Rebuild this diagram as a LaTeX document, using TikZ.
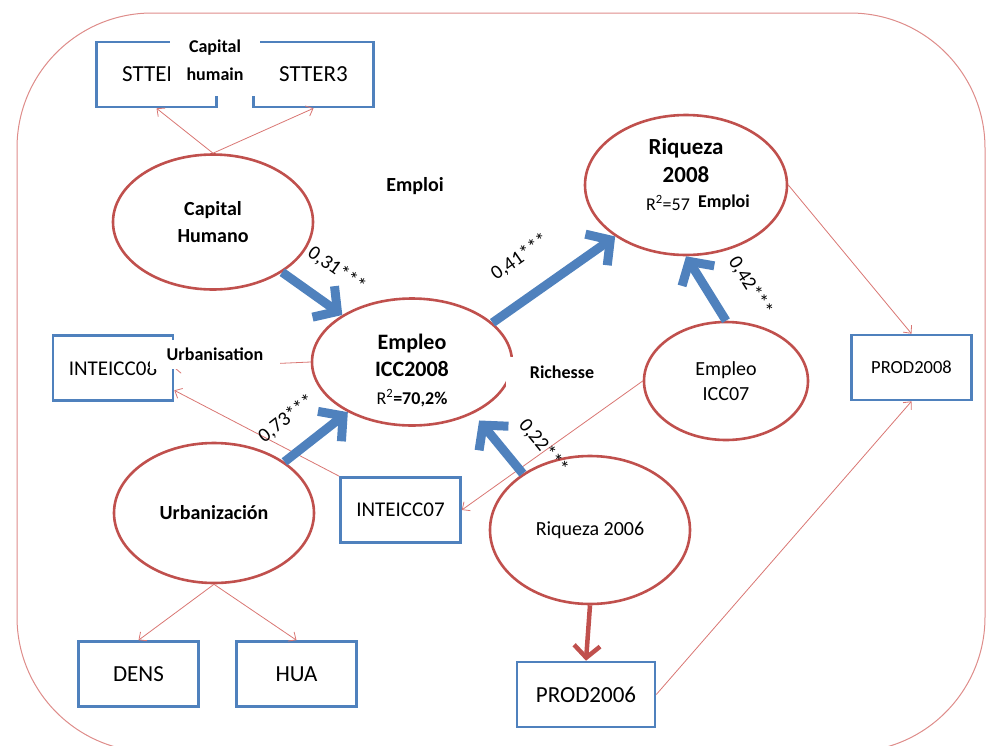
\documentclass[tikz,border=0pt]{standalone}
\usepackage{fontspec}
\setmainfont{Carlito}
\usetikzlibrary{arrows.meta,shapes.geometric}
\definecolor{semred}{RGB}{192,80,77}
\definecolor{semblue}{RGB}{79,129,189}
\definecolor{thinred}{RGB}{217,118,115}
\definecolor{framered}{RGB}{222,140,138}
\begin{document}
\begin{tikzpicture}[x=1pt,y=-1pt]
\tikzset{
  latent/.style={draw=semred,line width=2.6pt,shape=ellipse,fill=white,inner sep=0pt,align=center},
  manifest/.style={draw=semblue,line width=2.6pt,shape=rectangle,fill=white,minimum width=120pt,minimum height=65pt,inner sep=0pt},
  loading/.style={draw=thinred,line width=0.8pt,-{Straight Barb[length=6pt,width=11pt]}},
  effect/.style={draw=semblue,line width=9pt,-{Straight Barb[length=17pt,width=38pt]}},
  tag/.style={fill=white,font=\bfseries\fontsize{18}{28}\selectfont,inner sep=0pt,align=center},
  coef/.style={sloped,font=\fontsize{20}{24}\selectfont,inner sep=1pt}
}
\useasboundingbox (0,0) rectangle (986,745);
\draw[framered,line width=1pt,rounded corners=135pt] (17,13) rectangle (985,752);

% latent variables
\node[latent,minimum width=200pt,minimum height=135pt,font=\bfseries\fontsize{20}{27}\selectfont] (caphum) at (213,222) {Capital\\Humano};
\node[latent,minimum width=202pt,minimum height=140pt] (riq08) at (686,185) {};
\node[latent,minimum width=200pt,minimum height=127pt] (empl08) at (412,362) {};
\node[latent,minimum width=164pt,minimum height=118pt,font=\fontsize{20}{25}\selectfont] (icc07) at (726,381) {Empleo\\ICC07};
\node[latent,minimum width=200pt,minimum height=140pt,font=\bfseries\fontsize{20}{24}\selectfont] (urb) at (214,513) {Urbanización};
\node[latent,minimum width=200pt,minimum height=148pt,font=\fontsize{20}{24}\selectfont] (riq06) at (590,530) {Riqueza 2006};
\node[align=center,font=\bfseries\fontsize{23}{28}\selectfont] (riq08txt) at (686,174) {Riqueza\\2008\\\makebox[80pt][l]{\mdseries\fontsize{18}{22}\selectfont R\textsuperscript{2}=57}};
\node[align=center,font=\bfseries\fontsize{22}{27.5}\selectfont] (empl08txt) at (412,370) {Empleo\\ICC2008\\{\fontsize{18}{22}\selectfont\mdseries R\textsuperscript{2}\bfseries=70,2\%}};

% indicators
\node[manifest,font=\fontsize{23}{28}\selectfont] (stter2) at (156.5,74.5) {STTER\phantom{2}};
\node[manifest,font=\fontsize{23}{28}\selectfont] (stter3) at (313.5,74.5) {STTER3};
\node[manifest,font=\fontsize{21}{25}\selectfont] (inte08) at (113,368) {INTEICC08};
\node[manifest,font=\fontsize{21}{25}\selectfont] (inte07) at (400.5,510) {INTEICC07};
\node[manifest,font=\fontsize{18.5}{22}\selectfont] (prod08) at (911.5,367.5) {PROD2008};
\node[manifest,minimum width=138pt,font=\fontsize{23}{28}\selectfont] (prod06) at (586,694.5) {PROD2006};
\node[manifest,font=\fontsize{23}{28}\selectfont] (dens) at (138.5,674) {DENS};
\node[manifest,font=\fontsize{23}{28}\selectfont] (hua) at (296.5,674) {HUA};

% loadings
\draw[loading] (caphum.north) -- (stter2.south);
\draw[loading] (caphum.north) -- (stter3.south);
\draw[loading] (urb.south) -- (dens.north);
\draw[loading] (urb.south) -- (hua.north);
\draw[loading] (empl08.west) -- (inte08.east);
\draw[loading] (inte07.north west) -- (inte08.-20);
\draw[loading] (icc07.west) -- (inte07.east);
\draw[loading] (riq08.east) -- (prod08.north);
\draw[loading] (prod06.east) -- (prod08.south);
\draw[semred,line width=4.5pt,-{Straight Barb[length=12pt,width=26pt]}] (riq06.south) -- (prod06.north);

% structural paths
\draw[effect] (caphum.-36) -- node[coef,above=20pt,pos=.58] (c31) {0,31***} (empl08.146);
\draw[effect] (urb.36) -- node[coef,above=19pt,pos=.35] (c73) {0,73***} (empl08.218);
\draw[effect] (empl08.26) -- node[coef,above=24pt,pos=.40] (c41) {0,41***} (riq08.216);
\draw[effect] (icc07.north) -- node[coef,above=25pt,pos=.22] (c42) {0,42***} (riq08.south);
\draw[effect,shorten >=9pt] (riq06.140) -- node[coef,above=19pt,pos=.1] (c22) {0,22***} (empl08.-40);

% overlay labels
\node[tag,minimum width=90pt,minimum height=71pt] (tagch) at (215,60) {Capital\\humain};
\node[tag,minimum width=130pt,minimum height=29pt] (tagurb) at (215,354.5) {Urbanisation};
\node[tag,minimum width=112pt,minimum height=30pt] (tagric) at (562,372) {Richesse};
\node[tag,font=\bfseries\fontsize{20}{24}\selectfont] (tagemp) at (415,186) {Emploi};
\node[tag,minimum width=62pt,minimum height=20pt] (tagemp2) at (724,203) {Emploi};
\end{tikzpicture}
\end{document}
